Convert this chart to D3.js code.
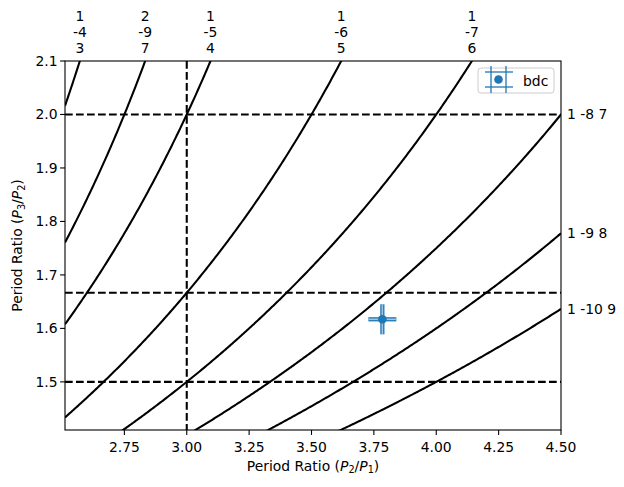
<!DOCTYPE html>
<html>
<head>
<meta charset="utf-8">
<script src="https://cdn.jsdelivr.net/npm/d3@7"></script>
<style>
  body { margin: 0; background: #fff; }
  text { font-family: "DejaVu Sans", sans-serif; font-size: 13.9px; fill: #000; }
</style>
</head>
<body>
<div id="chart"></div>
<script>
// Three-body resonances p/P1 + q/P2 + r/P3 = 0
const resP = [1, 2, 1, 1, 1, 1, 1, 1];
const resQ = [-4, -9, -5, -6, -7, -8, -9, -10];
const resR = [3, 7, 4, 5, 6, 7, 8, 9];

// dashed reference lines
const vLines = [3.0];
const hLines = [2.0, 5 / 3, 1.5];

// observed system
const ptName = ["bdc"];
const ptX = [3.784];
const ptY = [1.617];
const ptXerr = [0.056];
const ptYerr = [0.028];

const xTicks = [2.75, 3.0, 3.25, 3.5, 3.75, 4.0, 4.25, 4.5];
const yTicks = [1.5, 1.6, 1.7, 1.8, 1.9, 2.0, 2.1];
const xDomain = [2.512, 4.5];
const yDomain = [1.41, 2.1];

const W = 624, H = 487;
const margin = { top: 61, right: 63, bottom: 57, left: 65 };
const blue = "#1f77b4";

const svg = d3.select("#chart").append("svg")
  .attr("width", W).attr("height", H);

const x = d3.scaleLinear().domain(xDomain).range([margin.left, W - margin.right]);
const y = d3.scaleLinear().domain(yDomain).range([H - margin.bottom, margin.top]);

svg.append("clipPath").attr("id", "clip")
  .append("rect")
  .attr("x", x.range()[0]).attr("y", y.range()[1])
  .attr("width", x.range()[1] - x.range()[0])
  .attr("height", y.range()[0] - y.range()[1]);

const plot = svg.append("g").attr("clip-path", "url(#clip)");

// resonance curves: y = r / (-q - p x)
const resY = (i, xv) => resR[i] / (-resQ[i] - resP[i] * xv);
const xs = d3.range(0, 401).map(k => xDomain[0] + (xDomain[1] - xDomain[0]) * k / 400);
const line = d3.line().x(d => x(d[0])).y(d => y(d[1]));

resP.forEach((p, i) => {
  const pts = xs.map(xv => [xv, resY(i, xv)]).filter(d => d[1] > 0 && d[1] < 3);
  plot.append("path")
    .attr("d", line(pts))
    .attr("fill", "none")
    .attr("stroke", "#000")
    .attr("stroke-width", 2.08);
});

// dashed lines
vLines.forEach(v => {
  plot.append("line")
    .attr("x1", x(v)).attr("x2", x(v))
    .attr("y1", y.range()[1]).attr("y2", y.range()[0])
    .attr("stroke", "#000").attr("stroke-width", 2.08)
    .attr("stroke-dasharray", "7.7,3.3");
});
hLines.forEach(v => {
  plot.append("line")
    .attr("x1", x.range()[0]).attr("x2", x.range()[1])
    .attr("y1", y(v)).attr("y2", y(v))
    .attr("stroke", "#000").attr("stroke-width", 2.08)
    .attr("stroke-dasharray", "7.7,3.3");
});

// error bars, drawn as a double line
function errLine(g, x1, y1, x2, y2) {
  g.append("line").attr("x1", x1).attr("y1", y1).attr("x2", x2).attr("y2", y2)
    .attr("stroke", blue).attr("stroke-width", 4.2);
  g.append("line").attr("x1", x1).attr("y1", y1).attr("x2", x2).attr("y2", y2)
    .attr("stroke", "#9fc5e3").attr("stroke-width", 1.6);
}
ptX.forEach((xv, i) => {
  errLine(plot, x(xv - ptXerr[i]), y(ptY[i]), x(xv + ptXerr[i]), y(ptY[i]));
  errLine(plot, x(xv), y(ptY[i] - ptYerr[i]), x(xv), y(ptY[i] + ptYerr[i]));
  plot.append("circle")
    .attr("cx", x(xv)).attr("cy", y(ptY[i])).attr("r", 4.3)
    .attr("fill", blue);
});

// axes frame
svg.append("rect")
  .attr("x", x.range()[0]).attr("y", y.range()[1])
  .attr("width", x.range()[1] - x.range()[0])
  .attr("height", y.range()[0] - y.range()[1])
  .attr("fill", "none").attr("stroke", "#000").attr("stroke-width", 1.1);

// bottom axis
const gx = svg.append("g");
xTicks.forEach(t => {
  gx.append("line")
    .attr("x1", x(t)).attr("x2", x(t))
    .attr("y1", y.range()[0]).attr("y2", y.range()[0] + 4.9)
    .attr("stroke", "#000").attr("stroke-width", 1.1);
  gx.append("text")
    .attr("x", x(t)).attr("y", 452)
    .attr("text-anchor", "middle")
    .text(d3.format(".2f")(t));
});

// left axis
const gy = svg.append("g");
yTicks.forEach(t => {
  gy.append("line")
    .attr("x1", x.range()[0] - 4.9).attr("x2", x.range()[0])
    .attr("y1", y(t)).attr("y2", y(t))
    .attr("stroke", "#000").attr("stroke-width", 1.1);
  gy.append("text")
    .attr("x", 57.5).attr("y", y(t))
    .attr("text-anchor", "end")
    .attr("dominant-baseline", "central")
    .text(d3.format(".1f")(t));
});

// resonance labels: on top where the curve leaves through the top, else on the right
resP.forEach((p, i) => {
  const xt = (-resQ[i] - resR[i] / yDomain[1]) / p;
  if (xt <= xDomain[1]) {
    const lbl = [p, resQ[i], resR[i]];
    lbl.forEach((s, k) => {
      svg.append("text")
        .attr("x", x(xt)).attr("y", 21 + k * 16)
        .attr("text-anchor", "middle")
        .text(s);
    });
  } else {
    svg.append("text")
      .attr("x", x.range()[1] + 6).attr("y", y(resY(i, xDomain[1])))
      .attr("dominant-baseline", "central")
      .text(`${p} ${resQ[i]} ${resR[i]}`);
  }
});

// axis labels with math subscripts
function mathLabel(t, a, b) {
  t.append("tspan").text("Period Ratio (");
  t.append("tspan").attr("font-style", "italic").text("P");
  t.append("tspan").attr("font-size", "9.7px").attr("dy", 2.5).text(a);
  t.append("tspan").attr("dy", -2.5).text("/");
  t.append("tspan").attr("font-style", "italic").text("P");
  t.append("tspan").attr("font-size", "9.7px").attr("dy", 2.5).text(b);
  t.append("tspan").attr("dy", -2.5).text(")");
}
mathLabel(svg.append("text")
  .attr("x", (x.range()[0] + x.range()[1]) / 2).attr("y", 470.5)
  .attr("text-anchor", "middle"), "2", "1");
mathLabel(svg.append("text")
  .attr("transform", `translate(22,${(y.range()[0] + y.range()[1]) / 2}) rotate(-90)`)
  .attr("text-anchor", "middle"), "3", "2");

// legend
const lg = svg.append("g");
lg.append("rect")
  .attr("x", 478).attr("y", 68).attr("width", 76).attr("height", 25).attr("rx", 3)
  .attr("fill", "#fff").attr("fill-opacity", 0.8)
  .attr("stroke", "#cccccc").attr("stroke-width", 1);
const hx = 498.5, hy = 79.5;
[-7.5, 7.5].forEach(o => {
  lg.append("line").attr("x1", hx + o).attr("x2", hx + o).attr("y1", 66).attr("y2", 93)
    .attr("stroke", blue).attr("stroke-width", 1.3);
  lg.append("line").attr("x1", 485).attr("x2", 513).attr("y1", hy + o).attr("y2", hy + o)
    .attr("stroke", blue).attr("stroke-width", 1.3);
});
lg.append("circle").attr("cx", hx).attr("cy", hy).attr("r", 4.3).attr("fill", blue);
lg.append("text").attr("x", 523).attr("y", 80.5)
  .attr("dominant-baseline", "central").text(ptName[0]);
</script>
</body>
</html>
